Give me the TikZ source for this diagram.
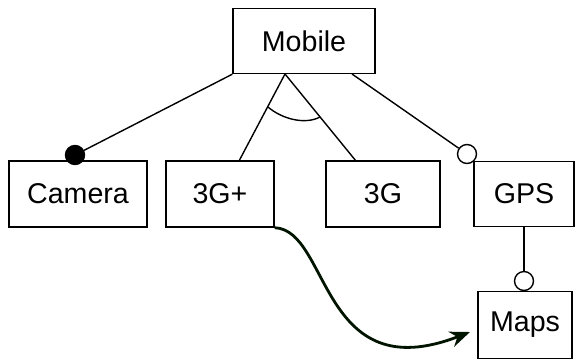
\documentclass[tikz,border=0pt]{standalone}
\usepackage{fontspec}
\setmainfont{Liberation Sans}
\usetikzlibrary{arrows.meta}
\begin{document}
\begin{tikzpicture}[x=0.5pt,y=-0.5pt,line width=0.7pt,
    font=\fontsize{14.3}{16}\selectfont]
      \useasboundingbox (0,0) rectangle (577,360);

      \begin{scope}[every node/.style={draw,inner sep=0pt}]
        \node[minimum width=71pt,minimum height=32.5pt] (mobile) at (304,41)  {Mobile};
        \node[minimum width=69pt,minimum height=33pt] (camera) at (78,194)  {Camera};
        \node[minimum width=54pt,minimum height=33pt] (g3plus) at (220,194) {3G+};
        \node[minimum width=57pt,minimum height=33pt] (g3)     at (383,194) {3G};
        \node[minimum width=50pt,minimum height=32.5pt] (gps)  at (524,194) {GPS};
        \node[minimum width=47pt,minimum height=33.5pt] (maps) at (525,325) {Maps};
      \end{scope}

      \begin{scope}[every node/.style={circle,draw,inner sep=0pt,minimum size=9.5pt}]
        \node[fill=black] (camdot) at (75,155) {};
        \node[fill=white] (gpsdot) at (467,154) {};
        \node[fill=white] (mapsdot) at (524,281) {};
      \end{scope}

      \coordinate (apex)    at (285,74);
      \coordinate (gpsfoot) at (352,74);
      \coordinate (g3plusin) at (239,161);
      \coordinate (g3in)    at (356,161);
      \coordinate (arcl)    at (268,107);
      \coordinate (arcr)    at (320,117);
      \coordinate (mapsin)  at (470,332);

      \draw (mobile.south west) -- (camdot);
      \draw (apex) -- (g3plusin);
      \draw (apex) -- (g3in);
      \draw (gpsfoot) -- (gpsdot);
      \draw (gps.south) -- (mapsdot);
      \draw (arcl) .. controls (282,119) and (305,125) .. (arcr);

      \draw[line width=1.4pt,color=black!92!green,-{Stealth[length=10pt,width=8pt]}]
        (g3plus.south east) .. controls (330,230) and (320,390) .. (mapsin);

    \end{tikzpicture}
\end{document}
